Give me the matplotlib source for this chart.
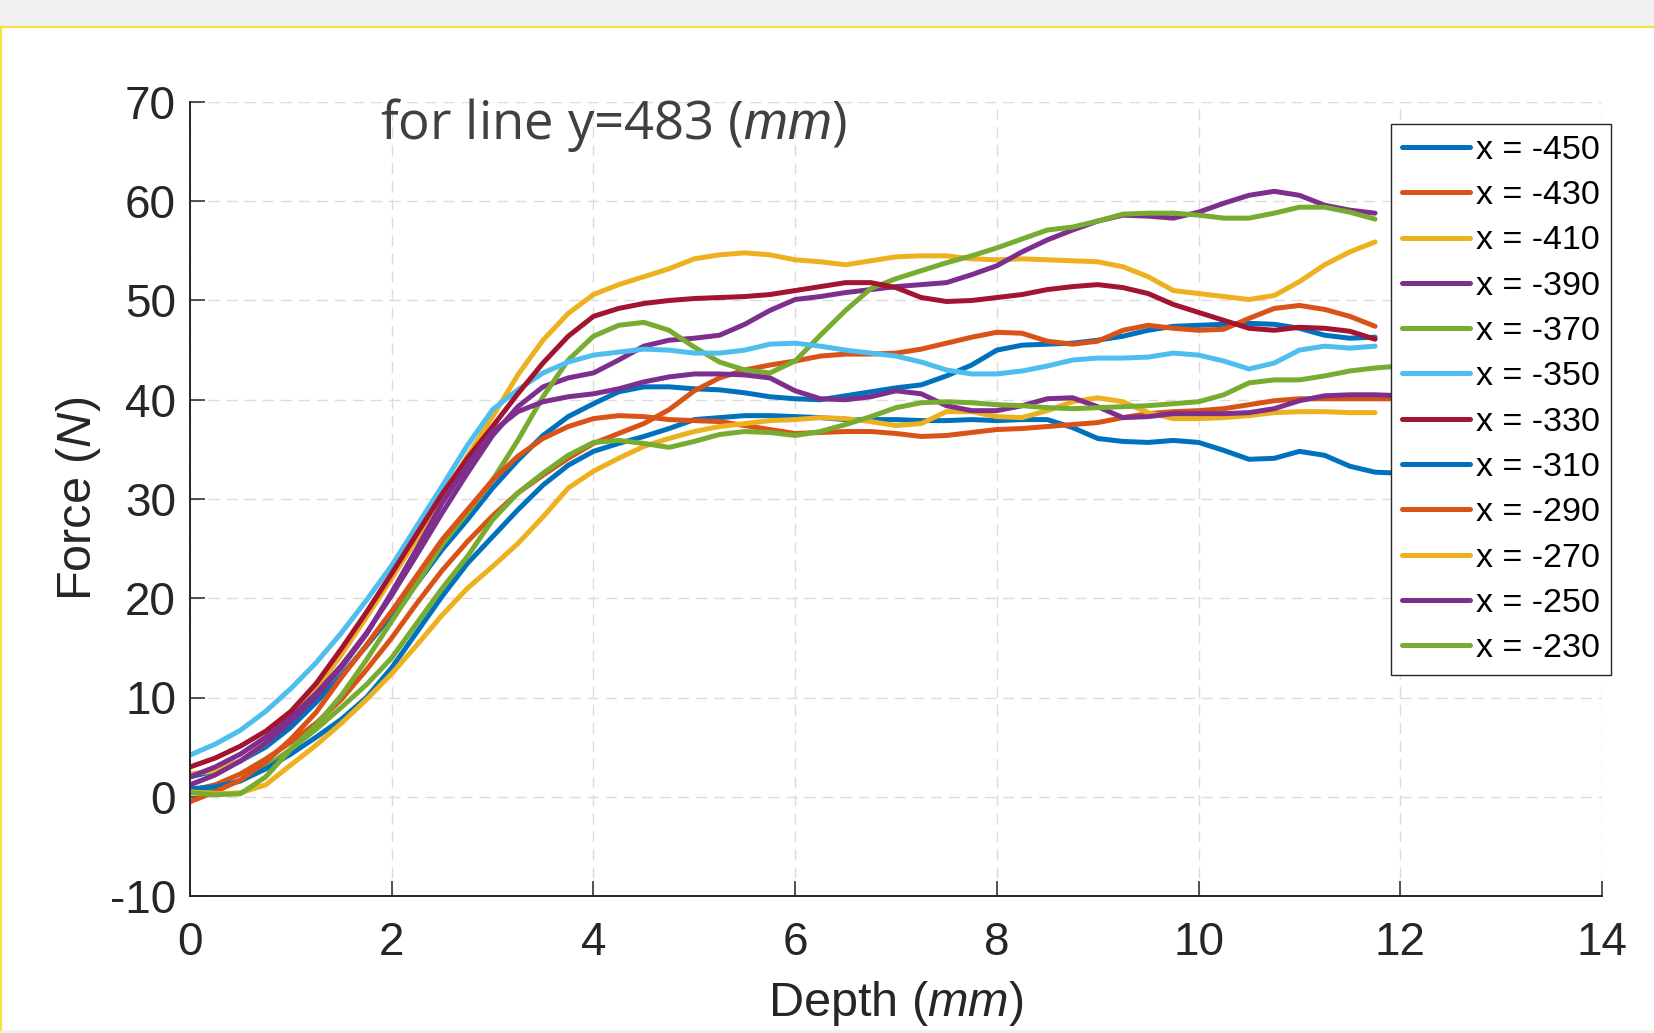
import numpy as np
import matplotlib
matplotlib.use("Agg")
import matplotlib.pyplot as plt
from matplotlib.patches import Rectangle
from matplotlib.lines import Line2D

nan = np.nan

# depth samples (mm)
depth = [0.0, 0.25, 0.5, 0.75, 1.0, 1.25, 1.5, 1.75, 2.0, 2.25, 2.5, 2.75,
         3.0, 3.25, 3.5, 3.75, 4.0, 4.25, 4.5, 4.75, 5.0, 5.25, 5.5, 5.75,
         6.0, 6.25, 6.5, 6.75, 7.0, 7.25, 7.5, 7.75, 8.0, 8.25, 8.5, 8.75,
         9.0, 9.25, 9.5, 9.75, 10.0, 10.25, 10.5, 10.75, 11.0, 11.25, 11.5, 11.75,
         12.0]

# force (N), one list per x position
f_450 = [2.0, 2.6, 3.6, 5.0, 7.0, 9.5, 12.2, 15.2, 18.3, 21.5, 24.9, 27.9,
         31.1, 33.9, 36.4, 38.3, 39.6, 40.8, 41.3, 41.3, 41.1, 41.0, 40.7, 40.3,
         40.1, 40.0, 40.4, 40.8, 41.2, 41.5, 42.4, 43.5, 45.0, 45.5, 45.6, 45.7,
         46.0, 46.4, 47.0, 47.4, 47.5, 47.6, 47.7, 47.6, 47.2, 46.5, 46.2, 46.3,
         nan]
f_430 = [0.6, 1.2, 2.3, 3.8, 5.5, 7.4, 9.8, 12.8, 16.0, 19.5, 22.8, 25.7,
         28.3, 30.6, 32.4, 34.1, 35.6, 36.6, 37.6, 39.0, 40.9, 42.2, 43.0, 43.5,
         43.9, 44.4, 44.6, 44.6, 44.7, 45.1, 45.7, 46.3, 46.8, 46.7, 45.9, 45.6,
         45.9, 47.0, 47.5, 47.2, 47.0, 47.1, 48.2, 49.2, 49.5, 49.1, 48.4, 47.4,
         nan]
f_410 = [2.3, 2.6, 3.6, 5.4, 7.8, 10.8, 14.3, 18.1, 22.0, 26.0, 30.2, 34.3,
         38.3, 42.5, 46.0, 48.7, 50.6, 51.6, 52.4, 53.2, 54.2, 54.6, 54.8, 54.6,
         54.1, 53.9, 53.6, 54.0, 54.4, 54.5, 54.5, 54.2, 54.1, 54.2, 54.1, 54.0,
         53.9, 53.4, 52.4, 51.0, 50.7, 50.4, 50.1, 50.5, 51.9, 53.6, 54.9, 55.9,
         nan]
f_390 = [2.0, 3.0, 4.3, 6.0, 8.0, 10.4, 13.2, 16.5, 20.3, 24.4, 28.6, 32.6,
         36.4, 39.3, 41.3, 42.2, 42.7, 44.0, 45.4, 46.0, 46.2, 46.5, 47.6, 49.0,
         50.1, 50.4, 50.8, 51.1, 51.4, 51.6, 51.8, 52.6, 53.5, 54.9, 56.1, 57.1,
         58.0, 58.6, 58.5, 58.3, 58.9, 59.8, 60.6, 61.0, 60.6, 59.6, 59.1, 58.8,
         nan]
f_370 = [0.5, 0.8, 1.6, 3.0, 4.8, 7.2, 10.2, 13.8, 17.7, 21.5, 25.4, 28.6,
         31.9, 35.9, 40.3, 44.0, 46.4, 47.5, 47.8, 47.0, 45.3, 43.8, 43.0, 42.7,
         43.9, 46.5, 49.0, 51.2, 52.2, 53.0, 53.8, 54.5, 55.3, 56.2, 57.1, 57.4,
         58.0, 58.7, 58.8, 58.8, 58.6, 58.3, 58.3, 58.8, 59.4, 59.4, 58.9, 58.2,
         nan]
f_350 = [4.2, 5.3, 6.7, 8.6, 10.9, 13.5, 16.5, 19.8, 23.3, 27.3, 31.3, 35.4,
         39.0, 41.0, 42.7, 43.8, 44.5, 44.8, 45.1, 45.0, 44.7, 44.7, 45.0, 45.6,
         45.7, 45.4, 45.0, 44.7, 44.4, 43.8, 43.0, 42.6, 42.6, 42.9, 43.4, 44.0,
         44.2, 44.2, 44.3, 44.7, 44.5, 43.9, 43.1, 43.7, 45.0, 45.4, 45.2, 45.4,
         nan]
f_330 = [3.0, 3.9, 5.1, 6.6, 8.6, 11.4, 14.9, 18.6, 22.5, 26.5, 30.5, 34.1,
         37.3, 40.6, 43.7, 46.4, 48.4, 49.2, 49.7, 50.0, 50.2, 50.3, 50.4, 50.6,
         51.0, 51.4, 51.8, 51.8, 51.3, 50.3, 49.9, 50.0, 50.3, 50.6, 51.1, 51.4,
         51.6, 51.3, 50.7, 49.6, 48.8, 48.0, 47.2, 47.0, 47.3, 47.2, 46.9, 46.1,
         nan]
f_310 = [0.8, 1.0, 1.6, 2.8, 4.3, 6.0, 7.8, 10.0, 13.0, 16.6, 20.2, 23.5,
         26.2, 28.9, 31.4, 33.4, 34.8, 35.6, 36.3, 37.1, 38.0, 38.2, 38.4, 38.4,
         38.3, 38.2, 38.0, 38.0, 38.0, 37.9, 37.9, 38.0, 37.9, 38.0, 38.0, 37.2,
         36.1, 35.8, 35.7, 35.9, 35.7, 34.9, 34.0, 34.1, 34.8, 34.4, 33.3, 32.7,
         32.6]
f_290 = [-0.5, 0.5, 1.7, 3.5, 5.8, 8.5, 12.0, 15.3, 18.7, 22.3, 25.9, 28.9,
         31.9, 34.3, 36.1, 37.3, 38.1, 38.4, 38.3, 38.0, 37.9, 37.8, 37.4, 37.0,
         36.6, 36.7, 36.8, 36.8, 36.6, 36.3, 36.4, 36.7, 37.0, 37.1, 37.3, 37.5,
         37.7, 38.2, 38.6, 38.8, 38.9, 39.1, 39.5, 39.9, 40.1, 40.1, 40.1, 40.1,
         40.1]
f_270 = [0.5, 0.3, 0.4, 1.2, 3.2, 5.2, 7.4, 9.8, 12.4, 15.3, 18.3, 21.0,
         23.2, 25.5, 28.2, 31.1, 32.8, 34.1, 35.3, 36.1, 36.8, 37.3, 37.6, 37.9,
         38.0, 38.2, 38.1, 37.8, 37.4, 37.6, 38.8, 38.8, 38.3, 38.2, 38.9, 39.8,
         40.2, 39.8, 38.7, 38.1, 38.1, 38.2, 38.4, 38.7, 38.8, 38.8, 38.7, 38.7,
         nan]
f_250 = [1.2, 2.2, 3.6, 5.4, 7.6, 10.1, 13.0, 16.4, 20.6, 25.0, 29.6, 33.4,
         36.8, 38.8, 39.8, 40.3, 40.6, 41.1, 41.8, 42.3, 42.6, 42.6, 42.5, 42.2,
         40.9, 40.1, 40.0, 40.3, 40.9, 40.6, 39.4, 38.9, 38.9, 39.4, 40.1, 40.2,
         39.3, 38.2, 38.3, 38.6, 38.6, 38.6, 38.7, 39.1, 39.9, 40.4, 40.5, 40.5,
         40.4]
f_230 = [0.4, 0.2, 0.3, 2.0, 4.8, 6.8, 9.0, 11.3, 14.0, 17.5, 21.0, 24.2,
         27.9, 30.6, 32.6, 34.4, 35.7, 35.9, 35.6, 35.2, 35.8, 36.5, 36.8, 36.7,
         36.4, 36.8, 37.5, 38.3, 39.2, 39.7, 39.8, 39.7, 39.5, 39.4, 39.2, 39.1,
         39.2, 39.3, 39.4, 39.6, 39.8, 40.5, 41.7, 42.0, 42.0, 42.4, 42.9, 43.2,
         43.4]

labels = ["x = -450", "x = -430", "x = -410", "x = -390", "x = -370", "x = -350",
          "x = -330", "x = -310", "x = -290", "x = -270", "x = -250", "x = -230"]
forces = [f_450, f_430, f_410, f_390, f_370, f_350,
          f_330, f_310, f_290, f_270, f_250, f_230]
colors = ["#0072BD", "#D95319", "#EDB120", "#7E2F8E", "#77AC30", "#4DBEEE",
          "#A2142F", "#0072BD", "#D95319", "#EDB120", "#7E2F8E", "#77AC30"]

plt.rcParams['font.family'] = ['Liberation Sans', 'DejaVu Sans']
plt.rcParams['mathtext.fontset'] = 'custom'
plt.rcParams['mathtext.rm'] = 'Liberation Sans'
plt.rcParams['mathtext.it'] = 'Liberation Sans:italic'
plt.rcParams['axes.unicode_minus'] = False

W, H = 1654, 1033
fig = plt.figure(figsize=(W / 100, H / 100), dpi=100, facecolor='white')

# screenshot-like frame
fig.patches.append(Rectangle((0, 1 - 26 / H), 1, 26 / H, transform=fig.transFigure,
                             facecolor='#f0f0f0', edgecolor='none', zorder=0))
fig.patches.append(Rectangle((0, 0), 1, 3 / H, transform=fig.transFigure,
                             facecolor='#f0f0f0', edgecolor='none', zorder=0))
fig.lines.append(Line2D([0, 1], [1 - 26.5 / H, 1 - 26.5 / H], transform=fig.transFigure,
                        color='#f2e43c', linewidth=1.6))
fig.lines.append(Line2D([1 / W, 1 / W], [3 / H, 1 - 26.5 / H], transform=fig.transFigure,
                        color='#f2e43c', linewidth=1.6))

ax = fig.add_axes([190 / W, 1 - 896 / H, 1412 / W, 794 / H])

for f, c, lab in zip(forces, colors, labels):
    ax.plot(depth, f, color=c, linewidth=3.6, label=lab,
            solid_joinstyle='round', solid_capstyle='round')

ax.set_xlim(0, 14)
ax.set_ylim(-10, 70)
ax.set_xticks([0, 2, 4, 6, 8, 10, 12, 14])
ax.set_yticks([-10, 0, 10, 20, 30, 40, 50, 60, 70])

ax.grid(True, color='#dcdcdc', linewidth=1.0, linestyle=(0, (8, 5)))
ax.set_axisbelow(True)
for s in ['top', 'right']:
    ax.spines[s].set_visible(False)
for s in ['left', 'bottom']:
    ax.spines[s].set_linewidth(1.4)
    ax.spines[s].set_color('#262626')

ax.tick_params(direction='in', length=10.8, width=1.1, color='#262626',
               labelsize=33, labelcolor='#262626')
ax.tick_params(axis='x', pad=18)
ax.tick_params(axis='y', pad=10)

ax.set_xlabel(r'Depth ($\mathit{mm}$)', fontsize=35, color='#262626', labelpad=10)
ax.set_ylabel(r'Force ($\mathit{N}$)', fontsize=35, color='#262626', labelpad=5)

fig.text(380 / W, 1 - 139 / H, r'for line y=483 ($\mathit{mm}$)', fontsize=38,
         family='Open Sans', color='#404040', va='baseline', ha='left')

leg = ax.legend(loc='upper right', bbox_to_anchor=(1611 / W, 1 - 124 / H),
                bbox_transform=fig.transFigure, fontsize=24.5, handlelength=2.0,
                handletextpad=0.18, borderpad=0.32, labelspacing=0.42,
                borderaxespad=0, fancybox=False, framealpha=1, edgecolor='#262626')
leg.get_frame().set_linewidth(1.0)
for h in leg.get_lines():
    h.set_linewidth(3.6)

fig.savefig('out.png', dpi=100, facecolor=fig.get_facecolor())
